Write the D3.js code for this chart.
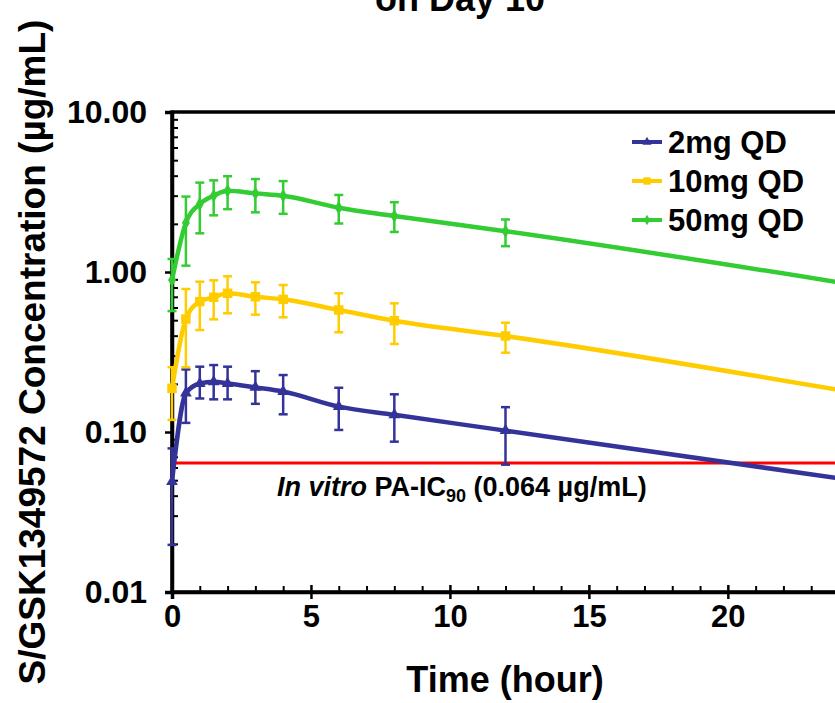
<!DOCTYPE html>
<html>
<head>
<meta charset="utf-8">
<script src="https://cdn.jsdelivr.net/npm/d3@7"></script>
<style>
  html, body { margin: 0; padding: 0; background: #fff; overflow: hidden; }
  text { font-family: "Liberation Sans", Arial, sans-serif; font-weight: bold; }
</style>
</head>
<body>
<svg id="chart" width="835" height="703"></svg>
<script>
// ---- data ----
const timeHours = [0, 0.5, 1, 1.5, 2, 3, 4, 6, 8, 12];
const lineEndHour = 24;

const dose2Mean  = [0.049, 0.175, 0.201, 0.206, 0.201, 0.190, 0.179, 0.144, 0.128, 0.102];
const dose2Upper = [0.079, 0.246, 0.256, 0.262, 0.256, 0.240, 0.227, 0.189, 0.172, 0.143];
const dose2Lower = [0.0197, 0.114, 0.162, 0.160, 0.160, 0.150, 0.129, 0.103, 0.087, 0.0625];
const dose2At24  = 0.0513;

const dose10Mean  = [0.1875, 0.508, 0.653, 0.695, 0.736, 0.700, 0.675, 0.579, 0.496, 0.398];
const dose10Upper = [0.254, 0.783, 0.870, 0.887, 0.940, 0.862, 0.829, 0.736, 0.637, 0.482];
const dose10Lower = [0.119, 0.254, 0.434, 0.506, 0.552, 0.541, 0.521, 0.420, 0.355, 0.313];
const dose10At24  = 0.183;

const dose50Mean  = [0.891, 2.03, 2.66, 3.00, 3.22, 3.10, 3.00, 2.52, 2.24, 1.80];
const dose50Upper = [1.206, 2.96, 3.62, 3.74, 3.97, 3.81, 3.70, 3.03, 2.73, 2.13];
const dose50Lower = [0.57, 1.095, 1.745, 2.26, 2.47, 2.36, 2.31, 2.01, 1.78, 1.45];
const dose50At24  = 0.862;

const seriesNames = ["2mg QD", "10mg QD", "50mg QD"];
const icValue = 0.064;

const xTickValues = [0, 5, 10, 15, 20];
const yTickValues = [0.01, 0.1, 1, 10];
const yTickLabels = ["0.01", "0.10", "1.00", "10.00"];

// ---- layout ----
const svg = d3.select("#chart");
const plotLeft = 172, plotRight = 839, plotTop = 112, plotBottom = 592;

const x = d3.scaleLinear().domain([0, 24]).range([plotLeft, plotRight]);
const y = d3.scaleLog().domain([0.01, 10]).range([plotBottom, plotTop]);

const colors = ["#333399", "#FFCC00", "#33CC33"];

const series = [
  { name: seriesNames[0], mean: dose2Mean, up: dose2Upper, lo: dose2Lower, end: dose2At24, color: colors[0], marker: d3.symbolTriangle, msize: 60 },
  { name: seriesNames[1], mean: dose10Mean, up: dose10Upper, lo: dose10Lower, end: dose10At24, color: colors[1], marker: d3.symbolSquare, msize: 90 },
  { name: seriesNames[2], mean: dose50Mean, up: dose50Upper, lo: dose50Lower, end: dose50At24, color: colors[2], marker: d3.symbolDiamond, msize: 55 }
];

// frame (top & right)
svg.append("rect")
  .attr("x", x(0)).attr("y", y(10))
  .attr("width", x(24) - x(0)).attr("height", y(0.01) - y(10))
  .attr("fill", "none").attr("stroke", "#000").attr("stroke-width", 3.5);

// y minor ticks (inward)
const minorY = y.ticks().filter(v => !yTickValues.some(t => Math.abs(t - v) < 1e-9));
const yMinor = svg.append("g").attr("transform", `translate(${plotLeft},0)`)
  .call(d3.axisRight(y).tickValues(minorY).tickSize(6).tickFormat(""));
yMinor.select(".domain").remove();
yMinor.selectAll("line").attr("stroke", "#000").attr("stroke-width", 2);

// y major axis
const yAxis = svg.append("g").attr("transform", `translate(${plotLeft},0)`)
  .call(d3.axisLeft(y).tickValues(yTickValues).tickSize(7).tickPadding(18)
    .tickFormat((d, i) => yTickLabels[i]));
yAxis.select(".domain").attr("stroke", "#000").attr("stroke-width", 3.5);
yAxis.selectAll("line").attr("stroke", "#000").attr("stroke-width", 2.5);
yAxis.selectAll("text").attr("font-size", 32).attr("fill", "#000")
  .attr("font-family", "Liberation Sans, Arial, sans-serif").attr("font-weight", "bold");

// x minor ticks (inward)
const minorX = d3.range(0, 25, 1).filter(v => v % 5 !== 0);
const xMinor = svg.append("g").attr("transform", `translate(0,${plotBottom})`)
  .call(d3.axisTop(x).tickValues(minorX).tickSize(6).tickFormat(""));
xMinor.select(".domain").remove();
xMinor.selectAll("line").attr("stroke", "#000").attr("stroke-width", 2);

// x major ticks crossing
const xMajUp = svg.append("g").attr("transform", `translate(0,${plotBottom})`)
  .call(d3.axisTop(x).tickValues(xTickValues).tickSize(7).tickFormat(""));
xMajUp.select(".domain").remove();
xMajUp.selectAll("line").attr("stroke", "#000").attr("stroke-width", 2.5);

const xAxis = svg.append("g").attr("transform", `translate(0,${plotBottom})`)
  .call(d3.axisBottom(x).tickValues(xTickValues).tickSize(7).tickPadding(6)
    .tickFormat(d3.format("d")));
xAxis.select(".domain").attr("stroke", "#000").attr("stroke-width", 3.5);
xAxis.selectAll("line").attr("stroke", "#000").attr("stroke-width", 2.5);
xAxis.selectAll("text").attr("font-size", 31).attr("fill", "#000")
  .attr("font-family", "Liberation Sans, Arial, sans-serif").attr("font-weight", "bold");

// IC90 line
svg.append("line")
  .attr("x1", x(0)).attr("x2", x(24))
  .attr("y1", y(icValue)).attr("y2", y(icValue))
  .attr("stroke", "#FF0000").attr("stroke-width", 3);

// IC90 label
const icLabel = svg.append("text")
  .attr("x", 277).attr("y", y(icValue) + 33)
  .attr("font-size", 27).attr("fill", "#000");
icLabel.append("tspan").attr("font-style", "italic").text("In vitro");
icLabel.append("tspan").text(" PA-IC");
icLabel.append("tspan").attr("font-size", 18).attr("dy", 6).text("90");
icLabel.append("tspan").attr("dy", -6).text(" (0.064 µg/mL)");

// series
const lineGen = d3.line()
  .x(d => x(d[0])).y(d => y(d[1]))
  .curve(d3.curveMonotoneX);

series.forEach(s => {
  const g = svg.append("g");
  const pts = timeHours.map((t, i) => [t, s.mean[i]]);
  pts.push([lineEndHour, s.end]);
  timeHours.forEach((t, i) => {
    const cx = x(t);
    g.append("line").attr("x1", cx).attr("x2", cx)
      .attr("y1", y(s.up[i])).attr("y2", y(s.lo[i]))
      .attr("stroke", s.color).attr("stroke-width", 2.5);
    [s.up[i], s.lo[i]].forEach(v => {
      g.append("line").attr("x1", cx - 4.5).attr("x2", cx + 4.5)
        .attr("y1", y(v)).attr("y2", y(v))
        .attr("stroke", s.color).attr("stroke-width", 2.5);
    });
  });
  g.append("path").datum(pts)
    .attr("d", lineGen)
    .attr("fill", "none").attr("stroke", s.color).attr("stroke-width", 4.5)
    .attr("stroke-linejoin", "round");
  g.selectAll("path.m").data(timeHours.map((t, i) => [t, s.mean[i]]))
    .enter().append("path").attr("class", "m")
    .attr("transform", d => `translate(${x(d[0])},${y(d[1])})`)
    .attr("d", d3.symbol().type(s.marker).size(s.msize))
    .attr("fill", s.color);
});

// legend
const legend = svg.append("g");
series.forEach((s, i) => {
  const ly = 142 + i * 39;
  legend.append("line").attr("x1", 632).attr("x2", 662)
    .attr("y1", ly).attr("y2", ly)
    .attr("stroke", s.color).attr("stroke-width", 4);
  legend.append("path").attr("transform", `translate(647,${ly})`)
    .attr("d", d3.symbol().type(s.marker).size(s.msize * 0.6))
    .attr("fill", s.color);
  legend.append("text").attr("x", 668).attr("y", ly + 11)
    .attr("font-size", 31).attr("fill", "#000").text(s.name);
});

// title (second line visible)
svg.append("text").attr("x", 460).attr("y", 11)
  .attr("text-anchor", "middle").attr("font-size", 36).attr("fill", "#000")
  .text("on Day 10");

// axis titles
svg.append("text").attr("x", 505).attr("y", 692)
  .attr("text-anchor", "middle").attr("font-size", 36).attr("fill", "#000")
  .text("Time (hour)");

svg.append("text")
  .attr("transform", "translate(45,352) rotate(-90)")
  .attr("text-anchor", "middle").attr("font-size", 37).attr("fill", "#000")
  .text("S/GSK1349572 Concentration (µg/mL)");
</script>
</body>
</html>
